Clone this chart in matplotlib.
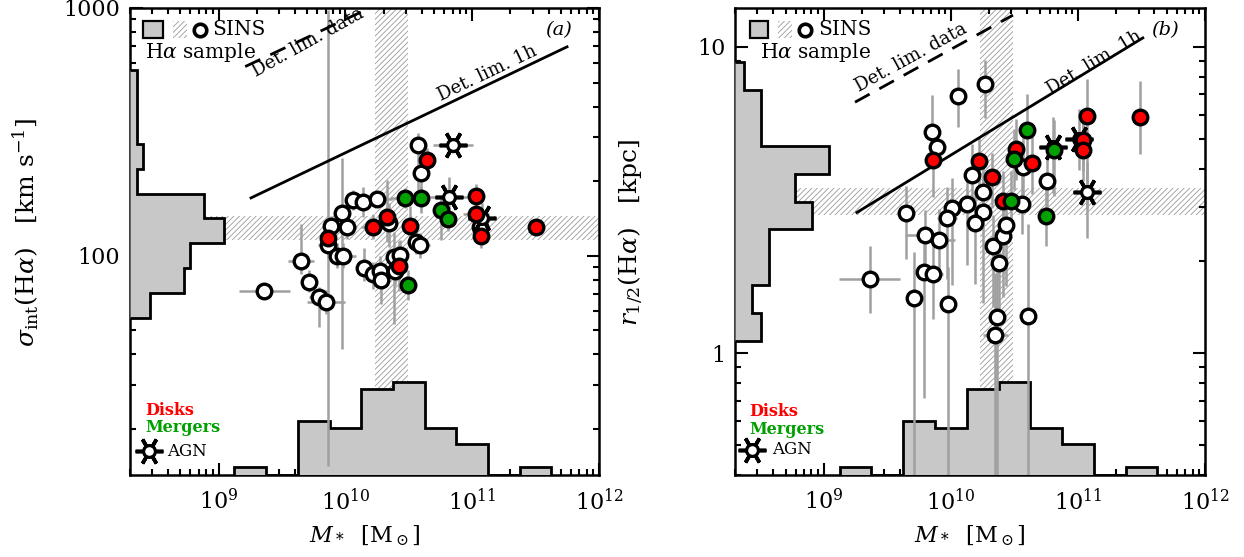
import numpy as np
import matplotlib
matplotlib.use('Agg')
import matplotlib.pyplot as plt
from matplotlib.ticker import FixedLocator, FixedFormatter, NullFormatter, LogLocator
from matplotlib.transforms import blended_transform_factory
from matplotlib.patches import Rectangle

plt.rcParams['font.family'] = ['DejaVu Serif']
plt.rcParams['mathtext.fontset'] = 'dejavuserif'
plt.rcParams['hatch.linewidth'] = 0.6

# ---------------- data: panel (a) ----------------
logM_a = [9.36, 9.65, 9.71, 9.79, 9.85, 9.86, 9.86, 9.89, 9.97, 10.01,
          9.93, 9.98, 10.06, 10.14, 10.25, 10.22, 10.33, 10.34, 10.15, 10.22,
          10.27, 10.28, 10.38, 10.43, 10.42, 10.39, 10.47, 10.49, 10.51, 10.56,
          10.59, 10.57, 10.64, 10.60, 10.60, 10.85, 10.82, 10.75, 10.81, 11.03,
          11.03, 11.08, 11.07, 11.06, 11.50]
sigma_a = [72, 95, 78, 68, 65, 118, 110, 132, 149, 131,
           100, 100, 168, 165, 169, 131, 143, 136, 89, 84,
           87, 80, 99, 101, 91, 87, 171, 76, 132, 114,
           110, 279, 243, 215, 171, 279, 173, 153, 141, 174,
           147, 142, 120, 131, 130]
type_a = ['W', 'W', 'W', 'W', 'W', 'R', 'W', 'W', 'W', 'W',
          'W', 'W', 'W', 'W', 'W', 'R', 'R', 'W', 'W', 'W',
          'W', 'W', 'W', 'W', 'R', 'W', 'G', 'G', 'R', 'W',
          'W', 'W', 'R', 'W', 'G', 'A', 'A', 'G', 'G', 'R',
          'R', 'A', 'R', 'W', 'R']
xerr_a = [0.20, 0.10, 0.05, 0.08, 0.15, 0.06, 0.08, 0.05, 0.05, 0.08,
          0.06, 0.10, 0.05, 0.05, 0.12, 0.10, 0.05, 0.05, 0.05, 0.05,
          0.05, 0.05, 0.05, 0.05, 0.05, 0.05, 0.12, 0.05, 0.05, 0.05,
          0.08, 0.05, 0.05, 0.05, 0.05, 0.16, 0.15, 0.05, 0.05, 0.05,
          0.10, 0.10, 0.05, 0.05, 0.03]
ylo_a = [0.02, 0.05, 0.04, 0.12, 0.05, 0.92, 0.05, 0.04, 0.55, 0.05,
         0.05, 0.05, 0.04, 0.06, 0.03, 0.05, 0.10, 0.10, 0.05, 0.06,
         0.06, 0.10, 0.27, 0.06, 0.10, 0.06, 0.04, 0.06, 0.08, 0.05,
         0.05, 0.20, 0.05, 0.08, 0.06, 0.03, 0.05, 0.12, 0.05, 0.05,
         0.05, 0.06, 0.05, 0.05, 0.02]
yhi_a = [0.02, 0.15, 0.05, 0.04, 0.05, 0.92, 0.05, 0.04, 0.22, 0.05,
         0.05, 0.05, 0.04, 0.06, 0.03, 0.05, 0.15, 0.08, 0.08, 0.05,
         0.06, 0.05, 0.10, 0.06, 0.10, 0.06, 0.04, 0.06, 0.08, 0.05,
         0.05, 0.05, 0.05, 0.06, 0.05, 0.03, 0.08, 0.05, 0.05, 0.05,
         0.05, 0.06, 0.05, 0.05, 0.02]

# ---------------- data: panel (b) ----------------
logM_b = [9.36, 9.65, 9.71, 9.79, 9.86, 9.80, 9.91, 9.98, 9.85, 9.89,
          9.86, 10.06, 10.27, 10.01, 9.97, 10.13, 10.17, 10.22, 10.32, 10.25,
          10.25, 10.19, 10.33, 10.41, 10.43, 10.38, 10.36, 10.35, 10.61, 10.41,
          10.47, 10.56, 10.51, 10.50, 10.57, 10.64, 10.60, 10.76, 10.75, 10.80,
          10.81, 11.07, 11.01, 11.04, 11.04, 11.07, 11.49]
r_b = [1.74, 2.86, 1.51, 1.84, 1.82, 2.44, 2.35, 1.45, 5.27, 4.70,
       4.26, 6.91, 7.56, 2.97, 2.77, 3.08, 3.83, 4.23, 3.75, 3.37,
       2.90, 2.67, 2.24, 2.42, 2.63, 1.97, 1.31, 1.15, 1.32, 3.13,
       3.13, 3.08, 4.63, 4.30, 4.04, 4.17, 5.34, 3.64, 2.81, 4.70,
       4.60, 5.94, 4.99, 4.96, 4.60, 3.35, 5.89]
type_b = ['W', 'W', 'W', 'W', 'W', 'W', 'W', 'W', 'W', 'W',
          'R', 'W', 'W', 'W', 'W', 'W', 'W', 'R', 'R', 'W',
          'W', 'W', 'W', 'W', 'W', 'W', 'W', 'W', 'W', 'R',
          'G', 'W', 'R', 'G', 'W', 'R', 'G', 'W', 'G', 'A',
          'G', 'R', 'A', 'R', 'R', 'A', 'R']
xerr_b = [0.24, 0.05, 0.05, 0.05, 0.08, 0.15, 0.12, 0.05, 0.03, 0.03,
          0.03, 0.05, 0.05, 0.05, 0.08, 0.05, 0.05, 0.05, 0.05, 0.05,
          0.05, 0.05, 0.05, 0.05, 0.05, 0.05, 0.05, 0.10, 0.05, 0.05,
          0.05, 0.05, 0.05, 0.05, 0.05, 0.05, 0.05, 0.05, 0.05, 0.10,
          0.05, 0.03, 0.10, 0.05, 0.05, 0.08, 0.03]
ylo_b = [0.11, 0.15, 0.60, 0.41, 0.15, 0.10, 0.10, 0.60, 0.05, 0.06,
         0.12, 0.10, 0.11, 0.25, 0.20, 0.20, 0.10, 0.08, 0.10, 0.10,
         0.30, 0.20, 0.20, 0.20, 0.20, 0.20, 0.60, 0.60, 0.55, 0.10,
         0.10, 0.10, 0.10, 0.10, 0.10, 0.10, 0.10, 0.08, 0.10, 0.15,
         0.15, 0.30, 0.10, 0.10, 0.10, 0.15, 0.12]
yhi_b = [0.11, 0.09, 0.15, 0.12, 0.10, 0.08, 0.10, 0.12, 0.12, 0.06,
         0.05, 0.09, 0.08, 0.10, 0.10, 0.10, 0.10, 0.08, 0.08, 0.10,
         0.10, 0.10, 0.10, 0.10, 0.10, 0.10, 0.25, 0.20, 0.30, 0.10,
         0.10, 0.10, 0.10, 0.10, 0.10, 0.10, 0.12, 0.08, 0.10, 0.10,
         0.10, 0.12, 0.10, 0.10, 0.10, 0.10, 0.12]

# ---------------- histograms ----------------
mass_edges = [9.125, 9.375, 9.625, 9.875, 10.125, 10.375, 10.625, 10.875, 11.125, 11.375, 11.625]
mass_counts = [1, 0, 7, 6, 11, 12, 6, 4, 0, 1]
sigma_edges = [1.75, 1.85, 1.95, 2.05, 2.15, 2.25, 2.35, 2.45, 2.55, 2.65, 2.75]
sigma_counts = [3, 8, 9, 14, 11, 1, 2, 1, 1, 1]
r_edges = [0.04, 0.131, 0.222, 0.313, 0.404, 0.495, 0.586, 0.677, 0.768, 0.859, 0.95]
r_counts = [3, 2, 4, 4, 9, 7, 11, 3, 3, 1]

# ---------------- reference bands & detection limits ----------------
mass_band = [1.7e10, 3.1e10]
sigma_band = [116, 145]
r_band = [2.83, 3.47]
detlim1h_a_M = [1.8e9, 5.6e11]
detlim1h_a_sig = [171, 697]
detlimdata_a_M = [1.62e9, 1.55e10]
detlimdata_a_sig = [580, 1000]
detlim1h_b_M = [1.82e9, 3.24e11]
detlim1h_b_r = [2.88, 10.7]
detlimdata_b_M = [1.76e9, 3.08e10]
detlimdata_b_r = [6.6, 12.7]

RED = '#ff0000'
GREEN = '#00a000'
HIST_FC = '#c8c8c8'
HATCH_C = '#9a9a9a'
ERR_C = '#a0a0a0'

fig = plt.figure(figsize=(12.44, 5.57), dpi=100)
axA = fig.add_axes([130/1244, 82/557, 469/1244, 467/557])
axB = fig.add_axes([735/1244, 82/557, 470/1244, 467/557])


def style_axes(ax, ylim, ymajor, ylabels):
    ax.set_xscale('log')
    ax.set_yscale('log')
    ax.set_xlim(2e8, 1e12)
    ax.set_ylim(*ylim)
    ax.xaxis.set_major_locator(FixedLocator([1e9, 1e10, 1e11, 1e12]))
    ax.xaxis.set_major_formatter(FixedFormatter([r'$10^{9}$', r'$10^{10}$', r'$10^{11}$', r'$10^{12}$']))
    ax.xaxis.set_minor_locator(LogLocator(base=10, subs=np.arange(2, 10), numticks=20))
    ax.xaxis.set_minor_formatter(NullFormatter())
    ax.yaxis.set_major_locator(FixedLocator(ymajor))
    ax.yaxis.set_major_formatter(FixedFormatter(ylabels))
    ax.yaxis.set_minor_locator(LogLocator(base=10, subs=np.arange(2, 10), numticks=20))
    ax.yaxis.set_minor_formatter(NullFormatter())
    ax.tick_params(which='both', direction='in', top=True, right=True, width=1.5, colors='black')
    ax.tick_params(which='major', length=9)
    ax.tick_params(which='minor', length=4.5)
    ax.tick_params(axis='x', which='major', labelsize=16, pad=10)
    ax.tick_params(axis='y', which='major', labelsize=16, pad=7)
    for s in ax.spines.values():
        s.set_linewidth(1.8)
    ax.set_xlabel(r'$M_*$  [M$_\odot$]', fontsize=16)
    ax.xaxis.set_label_coords(0.5, -0.105)


def draw_points(ax, logM, vals, types, xerr, ylo, yhi):
    logM = np.array(logM); vals = np.array(vals)
    xerr = np.array(xerr); ylo = np.array(ylo); yhi = np.array(yhi)
    M = 10 ** logM
    xe = [M - 10 ** (logM - xerr), 10 ** (logM + xerr) - M]
    ye = [vals - vals * 10 ** (-ylo), vals * 10 ** yhi - vals]
    ax.errorbar(M, vals, xerr=xe, yerr=ye, fmt='none', ecolor=ERR_C,
                elinewidth=1.8, capsize=0, zorder=4)
    types = np.array(types)
    for t, fc, z in [('W', 'white', 6), ('A', 'white', 7), ('R', RED, 8), ('G', GREEN, 8)]:
        m = types == t
        if not m.any():
            continue
        if t == 'A':
            ax.plot(M[m], vals[m], linestyle='none', marker=(6, 2, 30), ms=20,
                    mec='black', mew=2.6, zorder=z)
            ax.plot(M[m], vals[m], linestyle='none', marker='o', ms=8.5,
                    mfc='white', mec='black', mew=2.3, zorder=z)
        else:
            ax.plot(M[m], vals[m], linestyle='none', marker='o', ms=10.5,
                    mfc=fc, mec='black', mew=2.4, zorder=z)


def draw_hists(ax, yedges, ycounts):
    sc = 0.2 / max(mass_counts)
    ax.stairs(np.array(mass_counts) * sc, 10 ** np.array(mass_edges), baseline=0,
              fill=True, facecolor=HIST_FC, edgecolor='black', lw=2.0,
              transform=blended_transform_factory(ax.transData, ax.transAxes), zorder=3)
    sc2 = 0.2 / max(ycounts)
    ax.stairs(np.array(ycounts) * sc2, 10 ** np.array(yedges), baseline=0,
              orientation='horizontal', fill=True, facecolor=HIST_FC, edgecolor='black', lw=2.0,
              transform=blended_transform_factory(ax.transAxes, ax.transData), zorder=3)


def draw_legend(ax, sq_x, hx, cx, sx, hs_x):
    t = ax.transAxes
    ax.add_patch(Rectangle((sq_x[0], 0.936), sq_x[1] - sq_x[0], 0.036, transform=t,
                           facecolor=HIST_FC, edgecolor='black', lw=1.6, zorder=9))
    ax.add_patch(Rectangle((hx[0], 0.936), hx[1] - hx[0], 0.036, transform=t,
                           facecolor='white', edgecolor=HATCH_C, hatch='//////', lw=0, zorder=9))
    ax.plot([cx], [0.953], transform=t, marker='o', ms=9, mfc='white', mec='black',
            mew=2.6, linestyle='none', zorder=9, clip_on=False)
    ax.text(sx, 0.953, 'SINS', transform=t, fontsize=14.5, va='center', ha='left', zorder=9)
    ax.text(hs_x, 0.905, r'H$\alpha$ sample', transform=t, fontsize=14.5, va='center', ha='left', zorder=9)


def draw_legend2(ax, x0, ys, agn_x, agn_tx):
    t = ax.transAxes
    ax.text(x0, ys[0], 'Disks', transform=t, color=RED, fontsize=11.5, fontweight='bold',
            va='center', ha='left', zorder=9)
    ax.text(x0, ys[1], 'Mergers', transform=t, color=GREEN, fontsize=11.5, fontweight='bold',
            va='center', ha='left', zorder=9)
    ax.plot([agn_x], [ys[2]], transform=t, marker=(6, 2, 30), ms=20, mec='black', mew=2.6,
            linestyle='none', zorder=9)
    ax.plot([agn_x], [ys[2]], transform=t, marker='o', ms=8.5, mfc='white', mec='black', mew=2.3,
            linestyle='none', zorder=9)
    ax.text(agn_tx, ys[2], 'AGN', transform=t, fontsize=12, va='center', ha='left', zorder=9)


def line_angle(ax, xs, ys):
    p0 = ax.transData.transform((xs[0], ys[0]))
    p1 = ax.transData.transform((xs[1], ys[1]))
    return np.degrees(np.arctan2(p1[1] - p0[1], p1[0] - p0[0]))


# ---------------- panel (a) ----------------
style_axes(axA, (13, 1000), [100, 1000], ['100', '1000'])
axA.axvspan(*mass_band, facecolor='white', edgecolor=HATCH_C, hatch='//////', lw=0, zorder=1)
axA.axhspan(*sigma_band, facecolor='white', edgecolor=HATCH_C, hatch='//////', lw=0, zorder=1)
axA.plot(detlim1h_a_M, detlim1h_a_sig, color='black', lw=2, zorder=5)
axA.plot(detlimdata_a_M, detlimdata_a_sig, color='black', lw=2, dashes=(6, 4), zorder=5)
draw_points(axA, logM_a, sigma_a, type_a, xerr_a, ylo_a, yhi_a)
draw_hists(axA, sigma_edges, sigma_counts)
axA.set_ylabel(r'$\sigma_{\rm int}(\mathrm{H}\alpha)$   [km s$^{-1}$]', fontsize=18)
axA.yaxis.set_label_coords(-0.19, 0.52)
ang = line_angle(axA, detlim1h_a_M, detlim1h_a_sig)
axA.text(10 ** 11.12, 10 ** 2.735, 'Det. lim. 1h', rotation=ang, rotation_mode='anchor',
         ha='center', va='center', fontsize=13, zorder=6)
axA.text(10 ** 9.705, 10 ** 2.862, 'Det. lim. data', rotation=29, rotation_mode='anchor',
         ha='center', va='center', fontsize=13, zorder=6)
axA.text(0.913, 0.953, '(a)', transform=axA.transAxes, fontsize=14, style='italic',
         ha='center', va='center')
draw_legend(axA, (0.028, 0.070), (0.092, 0.122), 0.149, 0.175, 0.032)
draw_legend2(axA, 0.032, (0.139, 0.101, 0.051), 0.040, 0.079)
axA.set_xlim(2e8, 1e12); axA.set_ylim(13, 1000)

# ---------------- panel (b) ----------------
style_axes(axB, (0.4, 13.4), [1, 10], ['1', '10'])
axB.axvspan(*mass_band, facecolor='white', edgecolor=HATCH_C, hatch='//////', lw=0, zorder=1)
axB.axhspan(*r_band, facecolor='white', edgecolor=HATCH_C, hatch='//////', lw=0, zorder=1)
axB.plot(detlim1h_b_M, detlim1h_b_r, color='black', lw=2, zorder=5)
axB.plot(detlimdata_b_M, detlimdata_b_r, color='black', lw=2, dashes=(6, 4), zorder=5)
draw_points(axB, logM_b, r_b, type_b, xerr_b, ylo_b, yhi_b)
draw_hists(axB, r_edges, r_counts)
axB.set_ylabel(r'$r_{1/2}(\mathrm{H}\alpha)$   [kpc]', fontsize=18)
axB.yaxis.set_label_coords(-0.19, 0.52)
ang = line_angle(axB, detlim1h_b_M, detlim1h_b_r)
axB.text(10 ** 11.13, 10 ** 0.95, 'Det. lim. 1h', rotation=ang, rotation_mode='anchor',
         ha='center', va='center', fontsize=13, zorder=6)
angd = line_angle(axB, detlimdata_b_M, detlimdata_b_r)
axB.text(10 ** 9.69, 10 ** 0.965, 'Det. lim. data', rotation=angd, rotation_mode='anchor',
         ha='center', va='center', fontsize=13, zorder=6)
axB.text(0.915, 0.953, '(b)', transform=axB.transAxes, fontsize=14, style='italic',
         ha='center', va='center')
draw_legend(axB, (0.032, 0.070), (0.092, 0.121), 0.149, 0.177, 0.053)
draw_legend2(axB, 0.030, (0.135, 0.098, 0.054), 0.036, 0.079)
axB.set_xlim(2e8, 1e12); axB.set_ylim(0.4, 13.4)

fig.savefig('out.png', dpi=100)
